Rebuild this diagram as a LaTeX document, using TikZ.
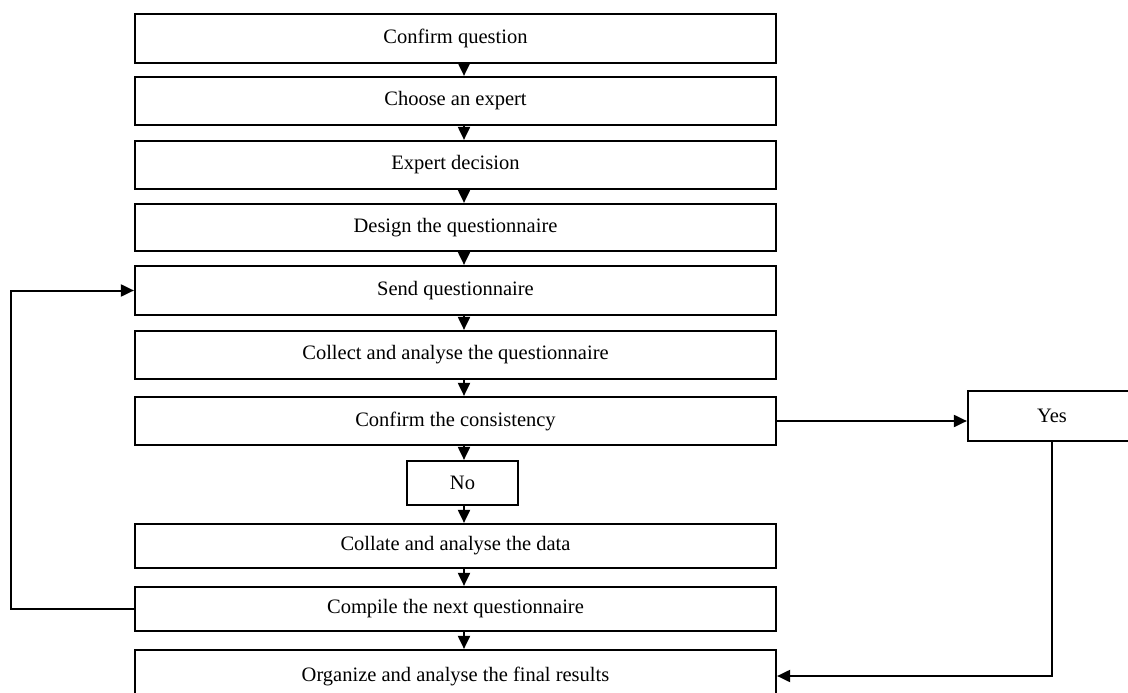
\documentclass[tikz,border=0pt]{standalone}
\usepackage{fontspec}
\setmainfont{Liberation Serif}
\usetikzlibrary{arrows.meta}
\begin{document}
\begin{tikzpicture}[x=1pt,y=-1pt,
  box/.style={draw,line width=2.2pt,minimum width=641pt,inner sep=0pt,font=\fontsize{20.5}{24}\selectfont},
  arr/.style={line width=2pt,-{Triangle[length=13pt,width=12pt]}}]
\useasboundingbox (0,0) rectangle (1128,693);
\clip (0,0) rectangle (1128,693);
\coordinate (ax) at (464,0);
\node[box,minimum height=49pt] (b1) at (455.5,38.5) {Confirm question};
\node[box,minimum height=48pt] (b2) at (455.5,101) {Choose an expert};
\node[box,minimum height=48pt] (b3) at (455.5,165) {Expert decision};
\node[box,minimum height=47pt] (b4) at (455.5,227.5) {Design the questionnaire};
\node[box,minimum height=49pt] (b5) at (455.5,290.5) {Send questionnaire};
\node[box,minimum height=48pt] (b6) at (455.5,355) {Collect and analyse the questionnaire};
\node[box,minimum height=48pt] (b7) at (455.5,421) {Confirm the consistency};
\node[box,minimum width=111pt,minimum height=44pt] (no) at (462.5,483) {No};
\node[box,minimum height=44pt] (b8) at (455.5,546) {Collate and analyse the data};
\node[box,minimum height=44pt] (b9) at (455.5,609) {Compile the next questionnaire};
\node[box,minimum height=52pt] (b10) at (455.5,676) {Organize and analyse the final results};
\node[box,minimum width=168pt,minimum height=50pt] (yes) at (1052,416) {Yes};
\draw[arr] (b1.south -| ax) -- (b2.north -| ax);
\draw[arr] (b2.south -| ax) -- (b3.north -| ax);
\draw[arr] (b3.south -| ax) -- (b4.north -| ax);
\draw[arr] (b4.south -| ax) -- (b5.north -| ax);
\draw[arr] (b5.south -| ax) -- (b6.north -| ax);
\draw[arr] (b6.south -| ax) -- (b7.north -| ax);
\draw[arr] (b7.south -| ax) -- (no.north -| ax);
\draw[arr] (no.south -| ax) -- (b8.north -| ax);
\draw[arr] (b8.south -| ax) -- (b9.north -| ax);
\draw[arr] (b9.south -| ax) -- (b10.north -| ax);
\coordinate (lx) at (11,0);
\draw[arr] (b9.west) -- (b9.west -| lx) -- (b5.west -| lx) -- (b5.west);
\draw[arr] (b7.east) -- (b7.east -| yes.west);
\draw[arr] (yes.south) |- (b10.east);
\end{tikzpicture}
\end{document}
